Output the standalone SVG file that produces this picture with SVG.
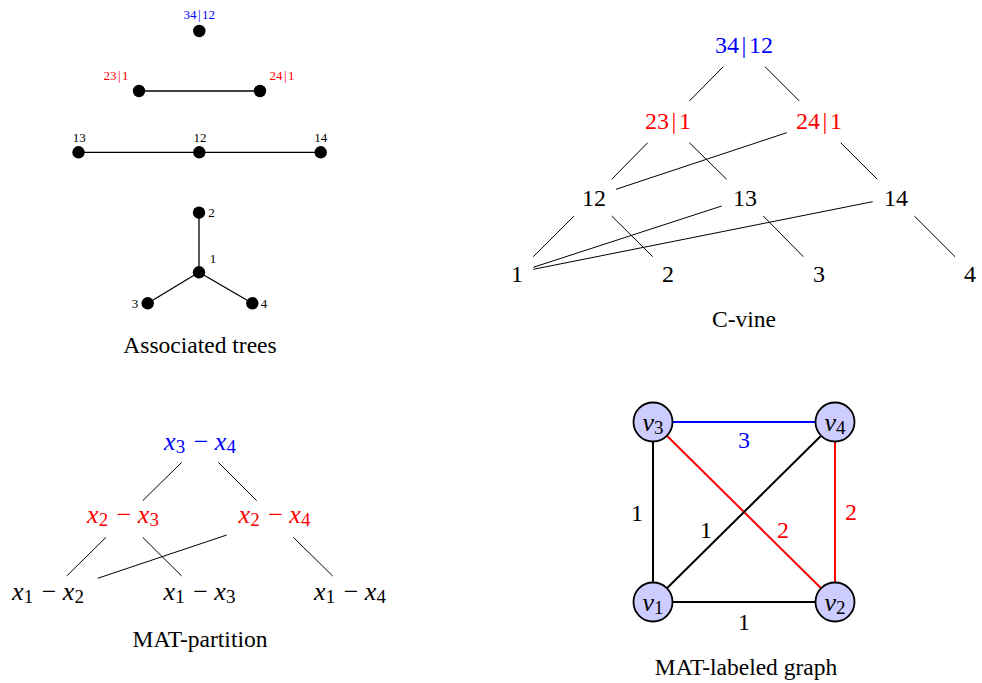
<svg xmlns="http://www.w3.org/2000/svg" width="982" height="683" viewBox="0 0 982 683">
<style>
text{font-family:"Liberation Serif","Times New Roman",serif;fill:#000}
.s{font-size:13px;text-anchor:middle}
.m{font-size:24px;text-anchor:middle}
.mx{font-size:26px;text-anchor:middle}
.cap{font-size:23.5px;text-anchor:middle}
.blue{fill:#0000ff}
.red{fill:#ff0000}
.i{font-style:italic}
.sub{font-size:19px}
.e{stroke:#000;stroke-width:1.3;fill:none}
.t{stroke:#000;stroke-width:1;fill:none}
.dot{fill:#000}
.g{stroke-width:2;fill:none}
.node circle{fill:#ccccff;stroke:#000;stroke-width:1.8}
</style>
<rect width="982" height="683" fill="#fff"/>

<!-- Associated trees -->
<g id="assoc-edges">
<line class="e" x1="139" y1="91" x2="260" y2="91"/>
<line class="e" x1="78.5" y1="152.3" x2="320.7" y2="152.3"/>
<line class="e" x1="199" y1="212.7" x2="199" y2="272.3"/>
<line class="e" x1="199" y1="272.3" x2="147.7" y2="303.3"/>
<line class="e" x1="199" y1="272.3" x2="252.3" y2="303.3"/>
</g>
<g id="at-3412"><circle class="dot" cx="199.3" cy="31" r="6.2"/><text class="s blue" x="199.3" y="19">34<tspan dx="1.5">|</tspan><tspan dx="1.5">12</tspan></text></g>
<g id="at-231"><circle class="dot" cx="139" cy="91" r="6.2"/><text class="s red" x="116" y="80">23<tspan dx="1.5">|</tspan><tspan dx="1.5">1</tspan></text></g>
<g id="at-241"><circle class="dot" cx="260" cy="91" r="6.2"/><text class="s red" x="282" y="80">24<tspan dx="1.5">|</tspan><tspan dx="1.5">1</tspan></text></g>
<g id="at-13"><circle class="dot" cx="78.5" cy="152.3" r="6.2"/><text class="s" x="79.3" y="141.5">13</text></g>
<g id="at-12"><circle class="dot" cx="199.3" cy="152.3" r="6.2"/><text class="s" x="200" y="141.5">12</text></g>
<g id="at-14"><circle class="dot" cx="320.7" cy="152.3" r="6.2"/><text class="s" x="320.7" y="141.5">14</text></g>
<g id="at-2"><circle class="dot" cx="199" cy="212.7" r="6.2"/><text class="s" x="211.5" y="217">2</text></g>
<g id="at-1"><circle class="dot" cx="199" cy="272.3" r="6.2"/><text class="s" x="213" y="262.7">1</text></g>
<g id="at-3"><circle class="dot" cx="147.7" cy="303.3" r="6.2"/><text class="s" x="135" y="307.5">3</text></g>
<g id="at-4"><circle class="dot" cx="252.3" cy="303.3" r="6.2"/><text class="s" x="264" y="307.5">4</text></g>
<text class="cap" x="200" y="353.3">Associated trees</text>

<!-- C-vine -->
<g id="cvine-edges">
<line class="t" x1="723.3" y1="66.7" x2="689.3" y2="101"/>
<line class="t" x1="765" y1="66.7" x2="799.3" y2="101"/>
<line class="t" x1="647.7" y1="142.7" x2="611.7" y2="179.3"/>
<line class="t" x1="689.3" y1="142.7" x2="726.7" y2="179.3"/>
<line class="t" x1="786.7" y1="132.7" x2="616" y2="189.3"/>
<line class="t" x1="840.7" y1="142.7" x2="877.3" y2="179.3"/>
<line class="t" x1="574" y1="216" x2="533.3" y2="256.7"/>
<line class="t" x1="611.7" y1="216" x2="652.7" y2="256.7"/>
<line class="t" x1="721.7" y1="206" x2="533.3" y2="267.3"/>
<line class="t" x1="872.7" y1="201.7" x2="533.3" y2="269.3"/>
<line class="t" x1="763.3" y1="216" x2="803.3" y2="256.7"/>
<line class="t" x1="914.3" y1="216" x2="955" y2="256.7"/>
</g>
<g id="cv-3412"><text class="m blue" x="744" y="53.3">34<tspan dx="2.5">|</tspan><tspan dx="2.5">12</tspan></text></g>
<g id="cv-231"><text class="m red" x="668" y="129">23<tspan dx="2.5">|</tspan><tspan dx="2.5">1</tspan></text></g>
<g id="cv-241"><text class="m red" x="819" y="129">24<tspan dx="2.5">|</tspan><tspan dx="2.5">1</tspan></text></g>
<g id="cv-12"><text class="m" x="594" y="205.7">12</text></g>
<g id="cv-13"><text class="m" x="745" y="205.7">13</text></g>
<g id="cv-14"><text class="m" x="896" y="205.7">14</text></g>
<g id="cv-1"><text class="m" x="517" y="281.7">1</text></g>
<g id="cv-2"><text class="m" x="668" y="281.7">2</text></g>
<g id="cv-3"><text class="m" x="819" y="281.7">3</text></g>
<g id="cv-4"><text class="m" x="970" y="281.7">4</text></g>
<text class="cap" x="744" y="326.7">C-vine</text>

<!-- MAT-partition -->
<g id="mp-edges">
<line class="t" x1="181.7" y1="462.3" x2="142.7" y2="500.7"/>
<line class="t" x1="218.3" y1="462.3" x2="256.7" y2="500.7"/>
<line class="t" x1="106" y1="537.3" x2="66.7" y2="576"/>
<line class="t" x1="142.7" y1="537.3" x2="181.7" y2="576"/>
<line class="t" x1="226.7" y1="535" x2="97.7" y2="578.3"/>
<line class="t" x1="293.3" y1="537.3" x2="332.7" y2="576"/>
</g>
<g id="mp-x3x4"><text class="mx blue" x="200" y="449.5"><tspan class="i">x</tspan><tspan class="sub" dy="3">3</tspan><tspan dy="-3" dx="2"> − </tspan><tspan class="i">x</tspan><tspan class="sub" dy="3">4</tspan></text></g>
<g id="mp-x2x3"><text class="mx red" x="123" y="523.3"><tspan class="i">x</tspan><tspan class="sub" dy="3">2</tspan><tspan dy="-3" dx="2"> − </tspan><tspan class="i">x</tspan><tspan class="sub" dy="3">3</tspan></text></g>
<g id="mp-x2x4"><text class="mx red" x="274.5" y="523.3"><tspan class="i">x</tspan><tspan class="sub" dy="3">2</tspan><tspan dy="-3" dx="2"> − </tspan><tspan class="i">x</tspan><tspan class="sub" dy="3">4</tspan></text></g>
<g id="mp-x1x2"><text class="mx" x="48" y="600"><tspan class="i">x</tspan><tspan class="sub" dy="3">1</tspan><tspan dy="-3" dx="2"> − </tspan><tspan class="i">x</tspan><tspan class="sub" dy="3">2</tspan></text></g>
<g id="mp-x1x3"><text class="mx" x="199.5" y="600"><tspan class="i">x</tspan><tspan class="sub" dy="3">1</tspan><tspan dy="-3" dx="2"> − </tspan><tspan class="i">x</tspan><tspan class="sub" dy="3">3</tspan></text></g>
<g id="mp-x1x4"><text class="mx" x="350" y="600"><tspan class="i">x</tspan><tspan class="sub" dy="3">1</tspan><tspan dy="-3" dx="2"> − </tspan><tspan class="i">x</tspan><tspan class="sub" dy="3">4</tspan></text></g>
<text class="cap" x="200" y="647">MAT-partition</text>

<!-- MAT-labeled graph -->
<g id="mg-edges">
<line class="g" stroke="#0000ff" x1="653" y1="422" x2="835" y2="422"/>
<line class="g" stroke="#000" x1="653" y1="422" x2="653" y2="602"/>
<line class="g" stroke="#000" x1="653" y1="602" x2="835" y2="602"/>
<line class="g" stroke="#ff0000" x1="835" y1="422" x2="835" y2="602"/>
<line class="g" stroke="#ff0000" x1="653" y1="422" x2="835" y2="602"/>
<line class="g" stroke="#000" x1="653" y1="602" x2="835" y2="422"/>
<text class="m blue" x="744" y="448">3</text>
<text class="m" x="637" y="521">1</text>
<text class="m" x="706" y="538">1</text>
<text class="m red" x="783" y="538">2</text>
<text class="m red" x="851" y="520">2</text>
<text class="m" x="744" y="630">1</text>
</g>
<g id="v3" class="node"><circle cx="653" cy="422" r="19.5"/><text class="mx" x="653" y="431"><tspan class="i">v</tspan><tspan class="sub" dy="3">3</tspan></text></g>
<g id="v4" class="node"><circle cx="835" cy="422" r="19.5"/><text class="mx" x="835" y="431"><tspan class="i">v</tspan><tspan class="sub" dy="3">4</tspan></text></g>
<g id="v1" class="node"><circle cx="653" cy="602" r="19.5"/><text class="mx" x="653" y="611"><tspan class="i">v</tspan><tspan class="sub" dy="3">1</tspan></text></g>
<g id="v2" class="node"><circle cx="835" cy="602" r="19.5"/><text class="mx" x="835" y="611"><tspan class="i">v</tspan><tspan class="sub" dy="3">2</tspan></text></g>
<text class="cap" x="746" y="675">MAT-labeled graph</text>
</svg>
